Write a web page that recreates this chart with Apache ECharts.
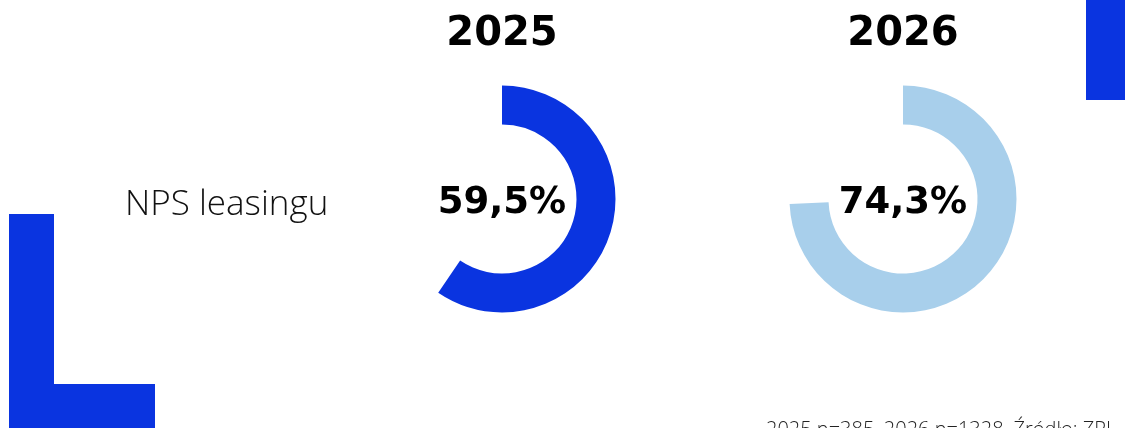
<!DOCTYPE html>
<html>
<head>
<meta charset="utf-8">
<script src="https://cdn.jsdelivr.net/npm/echarts@6/dist/echarts.min.js"></script>
<style>
html,body{margin:0;padding:0;background:#fff;}
#chart{width:1125px;height:428px;}
</style>
</head>
<body>
<div id="chart"></div>
<script>
const years = ['2025', '2026'];
const npsValues = [59.5, 74.3];
const rowLabel = 'NPS leasingu';
const sourceNote = '2025 n=385, 2026 n=1328. Źródło: ZPL';
const ringColors = ['#0a34e0', '#a8cfeb'];
const centersX = [502, 903];

const fmt = v => v.toFixed(1).replace('.', ',') + '%';

const chart = echarts.init(document.getElementById('chart'), null, {renderer: 'canvas'});

const series = npsValues.map((v, i) => ({
  type: 'pie',
  center: [centersX[i], 199],
  radius: [74.5, 113.5],
  startAngle: 90,
  clockwise: true,
  silent: true,
  animation: false,
  avoidLabelOverlap: false,
  emphasis: {disabled: true},
  labelLine: {show: false},
  data: [
    {value: v, name: years[i], itemStyle: {color: ringColors[i]},
     label: {show: true, position: 'center', offset: [0, 4], formatter: () => fmt(v),
             fontFamily: 'DejaVu Sans', fontWeight: 'bold', fontSize: 37, color: '#000'}},
    {value: 100 - v, name: 'rest', itemStyle: {color: 'rgba(0,0,0,0)'}, label: {show: false}}
  ]
}));

const titleTexts = years.map((y, i) => ({
  type: 'text', x: centersX[i], y: 35, silent: true,
  style: {text: y, textAlign: 'center', textVerticalAlign: 'middle',
          font: 'bold 40px "DejaVu Sans"', fill: '#000'}
}));

chart.setOption({
  backgroundColor: '#fff',
  series: series,
  graphic: [
    {type: 'rect', shape: {x: 9, y: 214, width: 45, height: 214}, style: {fill: '#0a34e0'}, silent: true},
    {type: 'rect', shape: {x: 9, y: 384, width: 146, height: 44}, style: {fill: '#0a34e0'}, silent: true},
    {type: 'rect', shape: {x: 1086, y: 0, width: 39, height: 100}, style: {fill: '#0a34e0'}, silent: true},
    {type: 'text', x: 125, y: 205, silent: true,
     style: {text: rowLabel, textVerticalAlign: 'middle', font: '300 35px "Open Sans"', fill: '#111'}},
    {type: 'text', x: 766, y: 420, silent: true,
     style: {text: sourceNote, font: '300 20px "Open Sans"', fill: '#222'}}
  ].concat(titleTexts)
});
</script>
</body>
</html>
